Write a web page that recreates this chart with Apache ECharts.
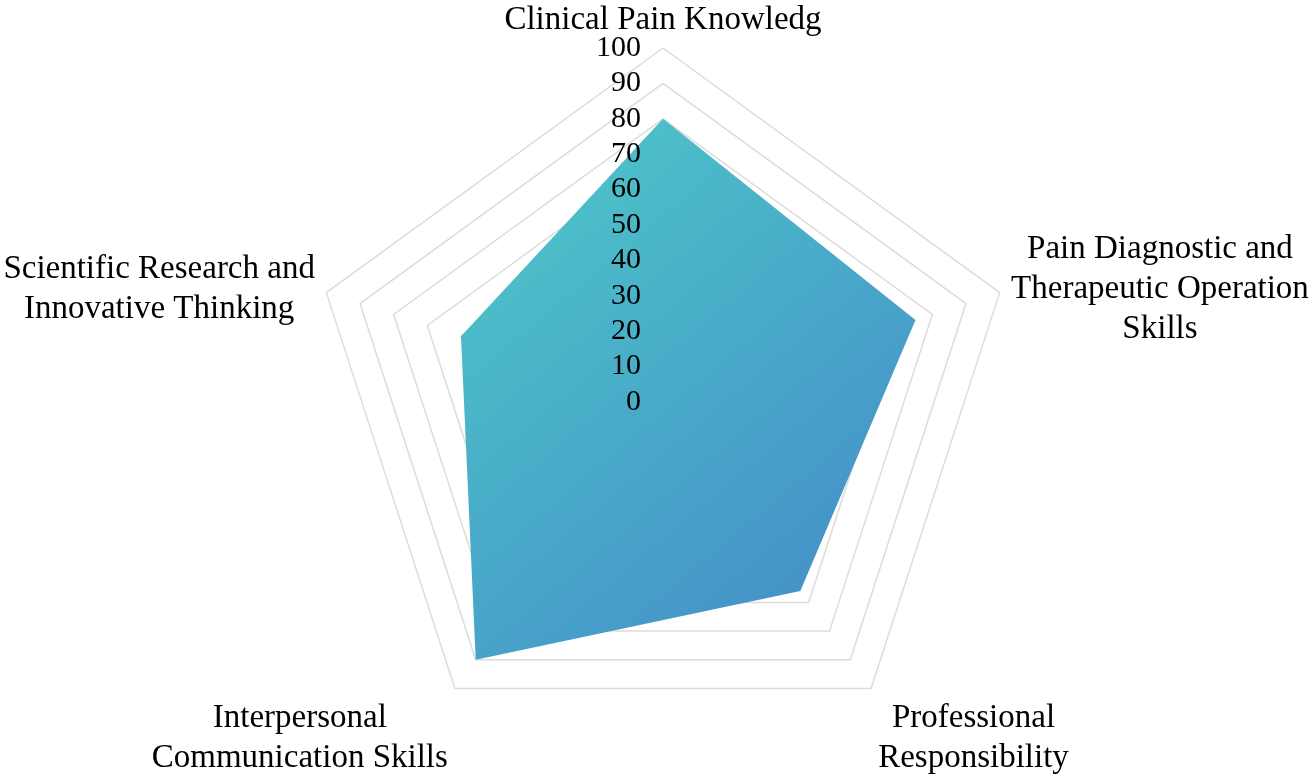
<!DOCTYPE html>
<html>
<head>
<meta charset="utf-8">
<script src="https://cdn.jsdelivr.net/npm/echarts@6/dist/echarts.min.js"></script>
<style>
  html, body { margin: 0; padding: 0; background: #fff; }
  #main { width: 1311px; height: 782px; }
</style>
</head>
<body>
<div id="main"></div>
<script>
  // indicators in radar order (top first, then counterclockwise)
  var indicatorNames = [
    'Clinical Pain Knowledg',
    'Scientific Research and\nInnovative Thinking',
    'Interpersonal\nCommunication Skills',
    'Professional\nResponsibility',
    'Pain Diagnostic and\nTherapeutic Operation\nSkills'
  ];
  var scores = [80, 60, 90, 66, 75];
  var axisMax = 100;

  // labels sitting under the chart get pushed down two lines
  var lowerLabels = [2, 3];

  var myChart = echarts.init(document.getElementById('main'));

  var baseIndicators = indicatorNames.map(function (name) {
    return { name: name, min: 0, max: axisMax };
  });

  // second copy of the axes, only used to draw tick labels above the fill
  var labelIndicators = indicatorNames.map(function (name, i) {
    var ind = { name: name, min: 0, max: axisMax };
    if (i === 0) {
      ind.axisLabel = {
        show: true,
        color: '#000',
        fontFamily: 'Liberation Serif',
        fontSize: 30,
        margin: 22
      };
    }
    return ind;
  });

  var serif = 'Liberation Serif';

  var option = {
    animation: false,
    backgroundColor: '#fff',
    radar: [
      {
        center: [663, 402],
        radius: 354,
        startAngle: 90,
        splitNumber: 10,
        shape: 'polygon',
        nameGap: 12,
        indicator: baseIndicators,
        axisName: {
          color: '#000',
          fontFamily: serif,
          fontSize: 33,
          formatter: function (name) {
            var idx = indicatorNames.indexOf(name);
            if (idx === 0) return '{t|' + name + '}';
            var txt = lowerLabels.indexOf(idx) >= 0 ? '\n\n' + name : name;
            return '{n|' + txt + '}';
          },
          rich: {
            n: { align: 'center', color: '#000', fontFamily: serif, fontSize: 33, lineHeight: 40 },
            t: { align: 'center', color: '#000', fontFamily: serif, fontSize: 33, lineHeight: 32 }
          }
        },
        axisLine: { show: false },
        axisTick: { show: false },
        axisLabel: { show: false },
        splitLine: { lineStyle: { color: '#dcdcdc', width: 1.5 } },
        splitArea: { show: false }
      },
      {
        z: 10,
        center: [663, 402],
        radius: 354,
        startAngle: 90,
        splitNumber: 10,
        shape: 'polygon',
        indicator: labelIndicators,
        axisName: { show: false },
        axisLine: { show: false },
        axisTick: { show: false },
        axisLabel: { show: false },
        splitLine: { show: false },
        splitArea: { show: false }
      }
    ],
    series: [
      {
        name: 'score',
        type: 'radar',
        radarIndex: 0,
        symbol: 'none',
        lineStyle: { width: 0 },
        areaStyle: {
          opacity: 1,
          color: new echarts.graphic.LinearGradient(0, 0, 1, 1, [
            { offset: 0, color: '#4dcbc8' },
            { offset: 1, color: '#4487c9' }
          ])
        },
        data: [{ value: scores, name: 'score' }]
      }
    ]
  };

  myChart.setOption(option);
</script>
</body>
</html>
